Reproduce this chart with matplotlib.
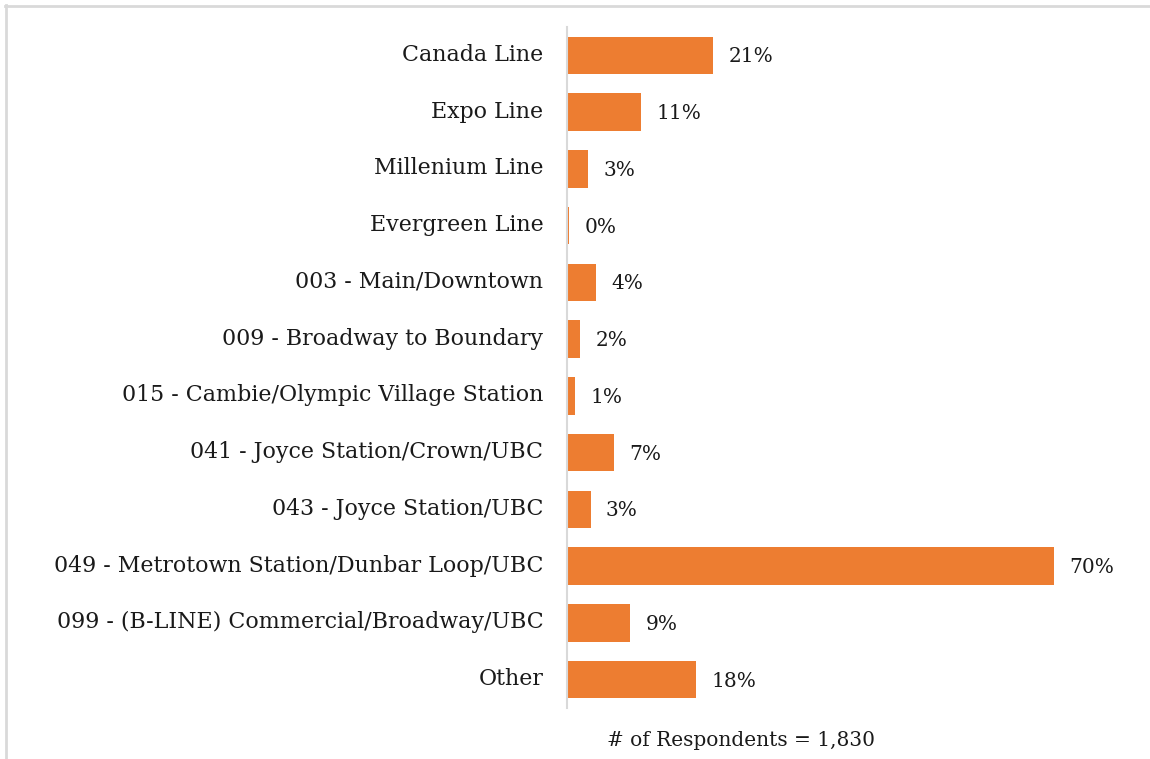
import matplotlib.pyplot as plt
import matplotlib.transforms as mtransforms
from matplotlib.lines import Line2D

categories = [
    'Canada Line',
    'Expo Line',
    'Millenium Line',
    'Evergreen Line',
    '003 - Main/Downtown',
    '009 - Broadway to Boundary',
    '015 - Cambie/Olympic Village Station',
    '041 - Joyce Station/Crown/UBC',
    '043 - Joyce Station/UBC',
    '049 - Metrotown Station/Dunbar Loop/UBC',
    '099 - (B-LINE) Commercial/Broadway/UBC',
    'Other',
]
values = [21.0, 10.6, 3.0, 0.3, 4.2, 1.9, 1.15, 6.8, 3.4, 70.0, 9.05, 18.5]
labels = ['21%', '11%', '3%', '0%', '4%', '2%', '1%', '7%', '3%', '70%', '9%', '18%']
note = '# of Respondents = 1,830'

plt.rcParams['font.family'] = ['DejaVu Serif']

fig = plt.figure(figsize=(11.5, 7.59), dpi=100)
ax = fig.add_axes([567 / 1150, 1 - 708 / 759, 557 / 1150, 681 / 759])

pos = list(range(len(categories)))
ax.barh(pos, values, height=0.66, color='#ED7D31')
ax.set_ylim(len(categories) - 0.5, -0.5)
ax.set_xlim(0, 80)

for y, v, lab in zip(pos, values, labels):
    ax.annotate(lab, (v, y), xytext=(11, -1), textcoords='offset points',
                ha='left', va='center', fontsize=14.5, color='#1a1a1a')

ax.set_yticks(pos)
ax.set_yticklabels(categories, fontsize=15.9, color='#1a1a1a')
ax.tick_params(axis='y', length=0, pad=17)
# category names sit a touch above the bar centres
shift = mtransforms.ScaledTranslation(0, 3 / 100, fig.dpi_scale_trans)
for t in ax.get_yticklabels():
    t.set_transform(t.get_transform() + shift)
ax.set_xticks([])
for s in ['top', 'right', 'bottom']:
    ax.spines[s].set_visible(False)
ax.spines['left'].set_color('#d9d9d9')
ax.spines['left'].set_linewidth(1.5)

fig.text(607 / 1150, 1 - 740 / 759, note, ha='left', va='center',
         fontsize=14.5, color='#1a1a1a')

# light frame on top and left edge
fig.add_artist(Line2D([5 / 1150, 1], [1 - 5.5 / 759] * 2, color='#d9d9d9', lw=2))
fig.add_artist(Line2D([5.5 / 1150] * 2, [0, 1 - 5 / 759], color='#d9d9d9', lw=2))

fig.savefig('out.png', dpi=100)
